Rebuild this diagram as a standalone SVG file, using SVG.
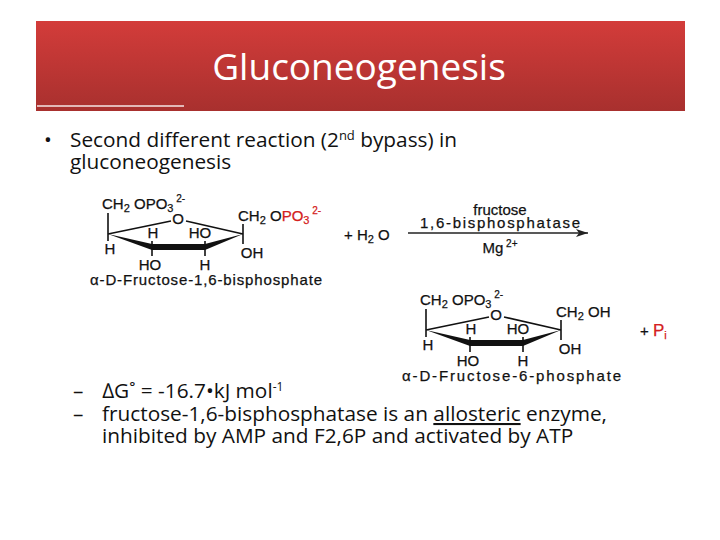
<svg xmlns="http://www.w3.org/2000/svg" width="720" height="540" viewBox="0 0 720 540">
<defs>
<linearGradient id="hg" x1="0" y1="0" x2="0" y2="1"><stop offset="0" stop-color="#d33c3a"/><stop offset="1" stop-color="#a8302e"/></linearGradient>
<marker id="ah" markerWidth="12" markerHeight="8" refX="12" refY="4" orient="auto" markerUnits="userSpaceOnUse"><path d="M0,0 L12,4 L0,8 L3,4 z" fill="#222"/></marker>
<g id="ring">
<line x1="108" y1="234" x2="171" y2="221" stroke="#111" stroke-width="1.6"/>
<line x1="186" y1="221" x2="243" y2="234" stroke="#111" stroke-width="1.6"/>
<polygon points="108,234 152,244 152,250" fill="#111"/>
<line x1="152" y1="247" x2="205" y2="247" stroke="#111" stroke-width="6"/>
<polygon points="243,234 205,244 205,250" fill="#111"/>
<line x1="108" y1="213" x2="108" y2="241" stroke="#111" stroke-width="1.6"/>
<line x1="152" y1="241" x2="152" y2="256" stroke="#111" stroke-width="1.6"/>
<line x1="205" y1="241" x2="205" y2="256" stroke="#111" stroke-width="1.6"/>
<line x1="243" y1="224" x2="243" y2="244" stroke="#111" stroke-width="1.6"/>
<text class="c m" x="178" y="224">O</text>
<text class="c m" x="110" y="254">H</text>
<text class="c m" x="153" y="238">H</text>
<text class="c m" x="200" y="238">HO</text>
<text class="c m" x="150" y="270">HO</text>
<text class="c m" x="205" y="270">H</text>
<text class="c m" x="252" y="258">OH</text>
</g>
</defs>
<style>
.c{font-family:"Liberation Sans",Arial,sans-serif;font-size:15px;fill:#111;stroke:#111;stroke-width:0.25}
.m{text-anchor:middle}
.s{font-size:10px}
.b{font-family:"Open Sans","Liberation Sans",sans-serif;font-size:20.8px;fill:#111}
</style>
<g id="header">
<rect x="36" y="21" width="649" height="90" fill="url(#hg)"/>
<line x1="37" y1="106" x2="184" y2="106" stroke="#f4e6e6" stroke-width="1.5"/>
<text x="359" y="80" text-anchor="middle" font-family="Open Sans, Liberation Sans, sans-serif" font-size="37" fill="#fff">Gluconeogenesis</text>
</g>
<g id="bullet">
<text class="b" x="44" y="147">•</text>
<text class="b" x="70" y="147">Second different reaction (2<tspan font-size="13" dy="-7">nd</tspan><tspan dy="7"> bypass) in</tspan></text>
<text class="b" x="70" y="169">gluconeogenesis</text>
</g>
<g id="f16bp">
<use href="#ring"/>
<text class="c" x="102" y="209">CH<tspan font-size="11" dy="3">2</tspan><tspan dy="-3"> OPO</tspan><tspan font-size="11" dy="3">3</tspan><tspan class="s" dy="-10"> 2-</tspan></text>
<text class="c" x="238" y="221">CH<tspan font-size="11" dy="3">2</tspan><tspan dy="-3"> O</tspan><tspan fill="#d42020" stroke="#d42020">PO</tspan><tspan font-size="11" dy="3" fill="#d42020" stroke="#d42020">3</tspan><tspan class="s" dy="-10" fill="#d42020" stroke="#d42020"> 2-</tspan></text>
<text class="c" x="90" y="285" textLength="232">α-D-Fructose-1,6-bisphosphate</text>
</g>
<g id="water"><text class="c" x="344" y="240">+  H<tspan font-size="11" dy="3">2</tspan><tspan dy="-3"> O</tspan></text></g>
<g id="f6p">
<use href="#ring" transform="translate(318,96)"/>
<text class="c" x="420" y="305">CH<tspan font-size="11" dy="3">2</tspan><tspan dy="-3"> OPO</tspan><tspan font-size="11" dy="3">3</tspan><tspan class="s" dy="-10"> 2-</tspan></text>
<text class="c" x="556" y="317">CH<tspan font-size="11" dy="3">2</tspan><tspan dy="-3"> OH</tspan></text>
<text class="c" x="402" y="381" textLength="219">α-D-Fructose-6-phosphate</text>
</g>
<g id="pi"><text class="c" x="640" y="336">+  <tspan fill="#d42020" stroke="#d42020" font-size="17">P</tspan><tspan font-size="11" dy="3" fill="#d42020" stroke="#d42020">i</tspan></text></g>
<g id="connectors">
<line x1="408" y1="233" x2="588" y2="233" stroke="#222" stroke-width="1.3" marker-end="url(#ah)"/>
<text class="c m" x="500" y="215">fructose</text>
<text class="c m" x="500" y="228" textLength="160">1,6-bisphosphatase</text>
<text class="c m" x="500" y="253">Mg<tspan class="s" dy="-6"> 2+</tspan></text>
</g>
<g id="subpoints">
<text class="b" x="73" y="398">–</text>
<text class="b" x="102" y="398">∆G˚ = -16.7•kJ mol<tspan font-size="12" dy="-7">-1</tspan></text>
<text class="b" x="73" y="421">–</text>
<text class="b" x="102" y="421">fructose-1,6-bisphosphatase is an <tspan text-decoration="underline">allosteric</tspan> enzyme,</text>
<text class="b" x="102" y="443">inhibited by AMP and F2,6P and activated by ATP</text>
</g>
</svg>
